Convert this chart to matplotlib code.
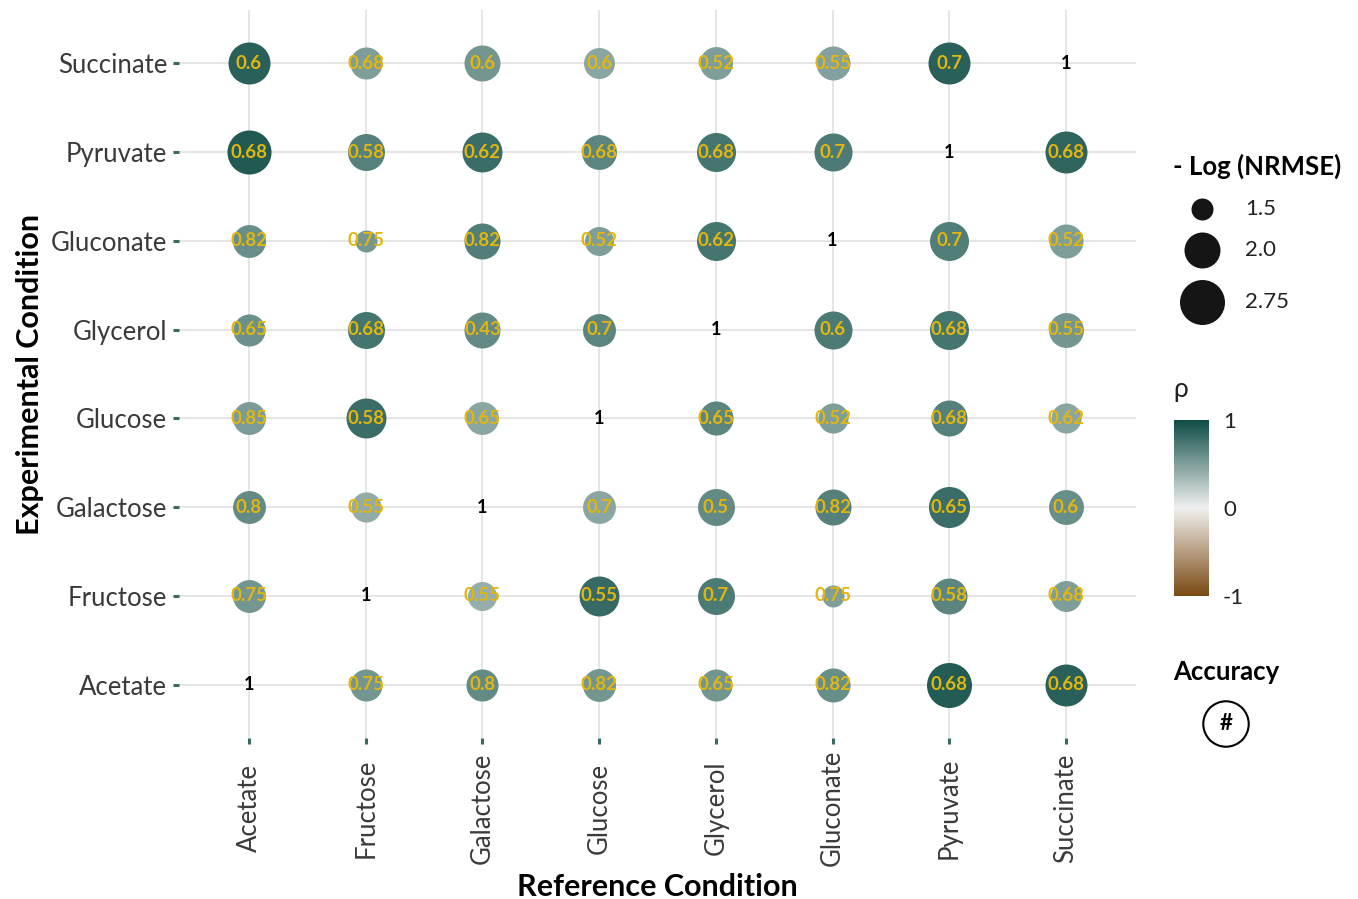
import numpy as np
import matplotlib
matplotlib.use("Agg")
import matplotlib.pyplot as plt
from matplotlib.colors import LinearSegmentedColormap, Normalize
from matplotlib.colorbar import ColorbarBase

plt.rcParams['font.family'] = ['Lato', 'DejaVu Sans']

conditions = ['Acetate', 'Fructose', 'Galactose', 'Glucose',
              'Glycerol', 'Gluconate', 'Pyruvate', 'Succinate']

# rows: experimental condition (bottom -> top follows `conditions`)
# cols: reference condition
neg_log_nrmse = {
    'Succinate': [2.50, 1.86, 2.00, 1.82, 1.89, 1.93, 2.50, np.nan],
    'Pyruvate':  [2.67, 2.08, 2.33, 1.96, 2.25, 2.17, np.nan, 2.50],
    'Gluconate': [1.89, 1.50, 2.00, 1.75, 2.25, np.nan, 2.25, 1.93],
    'Glycerol':  [1.86, 2.08, 2.00, 1.89, np.nan, 2.17, 2.25, 1.96],
    'Glucose':   [1.89, 2.33, 1.89, np.nan, 1.93, 1.79, 2.00, 1.79],
    'Galactose': [1.89, 1.79, np.nan, 1.89, 2.08, 2.00, 2.42, 1.96],
    'Fructose':  [1.89, np.nan, 1.75, 2.33, 2.08, 1.50, 2.00, 1.82],
    'Acetate':   [np.nan, 1.86, 1.86, 1.89, 1.86, 1.93, 2.75, 2.50],
}

rho = {
    'Succinate': [0.88, 0.50, 0.55, 0.45, 0.50, 0.48, 0.88, np.nan],
    'Pyruvate':  [0.92, 0.68, 0.80, 0.65, 0.75, 0.72, np.nan, 0.85],
    'Gluconate': [0.60, 0.55, 0.70, 0.50, 0.75, np.nan, 0.70, 0.50],
    'Glycerol':  [0.58, 0.75, 0.62, 0.65, np.nan, 0.72, 0.75, 0.55],
    'Glucose':   [0.52, 0.80, 0.45, np.nan, 0.65, 0.50, 0.68, 0.45],
    'Galactose': [0.62, 0.42, np.nan, 0.45, 0.62, 0.68, 0.80, 0.60],
    'Fructose':  [0.55, np.nan, 0.40, 0.82, 0.72, 0.50, 0.65, 0.50],
    'Acetate':   [np.nan, 0.55, 0.62, 0.55, 0.55, 0.60, 0.90, 0.88],
}

accuracy = {
    'Succinate': [0.6, 0.68, 0.6, 0.6, 0.52, 0.55, 0.7, 1],
    'Pyruvate':  [0.68, 0.58, 0.62, 0.68, 0.68, 0.7, 1, 0.68],
    'Gluconate': [0.82, 0.75, 0.82, 0.52, 0.62, 1, 0.7, 0.52],
    'Glycerol':  [0.65, 0.68, 0.43, 0.7, 1, 0.6, 0.68, 0.55],
    'Glucose':   [0.85, 0.58, 0.65, 1, 0.65, 0.52, 0.68, 0.62],
    'Galactose': [0.8, 0.55, 1, 0.7, 0.5, 0.82, 0.65, 0.6],
    'Fructose':  [0.75, 1, 0.55, 0.55, 0.7, 0.75, 0.58, 0.68],
    'Acetate':   [1, 0.75, 0.8, 0.82, 0.65, 0.82, 0.68, 0.68],
}

size_breaks = [1.5, 2.0, 2.75]
size_labels = ['1.5', '2.0', '2.75']

DPI = 100
cmap = LinearSegmentedColormap.from_list(
    'brbg', [(0.0, '#7B4A12'), (0.5, '#F0F0F0'), (1.0, '#0E4D45')])
norm = Normalize(-1, 1)
tick_col = '#3A6A63'
label_col = '#E2B60E'


def marker_size(v):
    # diameter in pixels along the legend breaks, converted to points^2
    d = np.interp(v, size_breaks, [22, 36, 45])
    return (d * 72 / DPI) ** 2


fig = plt.figure(figsize=(13.58, 8.99), dpi=DPI)
ax = fig.add_axes([179 / 1358, 1 - 738 / 899, 957 / 1358, 728 / 899])

ax.set_xlim(0.4, 8.6)
ax.set_ylim(0.4, 8.6)
ax.set_axisbelow(True)
ax.grid(True, color='#E5E5E5', linewidth=1.4)
for s in ax.spines.values():
    s.set_visible(False)

for row_i, exp in enumerate(conditions):
    y = row_i + 1
    sizes = neg_log_nrmse[exp]
    cols = rho[exp]
    accs = accuracy[exp]
    for col_i in range(len(conditions)):
        x = col_i + 1
        if np.isnan(sizes[col_i]):
            ax.text(x, y, '1', ha='center', va='center', fontsize=13,
                    fontweight='bold', color='black')
            continue
        ax.scatter(x, y, s=marker_size(sizes[col_i]),
                   color=cmap(norm(cols[col_i])), linewidths=0, zorder=2)
        ax.text(x, y, f'{accs[col_i]:g}', ha='center', va='center',
                fontsize=13.5, fontweight='bold', color=label_col, zorder=3)

ax.set_xticks(range(1, 9))
ax.set_yticks(range(1, 9))
ax.set_xticklabels(conditions, rotation=90, va='center', ha='center')
ax.set_yticklabels(conditions)
ax.tick_params(axis='both', length=4.5, width=2.2, color=tick_col,
               labelsize=18.5, labelcolor='#3A3A3A')
ax.tick_params(axis='x', pad=46)
ax.tick_params(axis='y', pad=4)

fig.text(657 / 1358, 1 - 887 / 899, 'Reference Condition', ha='center',
         va='center', fontsize=22, fontweight='bold')
fig.text(30 / 1358, 1 - 374 / 899, 'Experimental Condition', ha='center',
         va='center', rotation=90, fontsize=22, fontweight='bold')

# size legend
fig.text(1173 / 1358, 1 - 166 / 899, '- Log (NRMSE)', ha='left', va='center',
         fontsize=18.5, fontweight='bold')
leg = fig.add_axes([1170 / 1358, 1 - 330 / 899, 140 / 1358, 140 / 899])
leg.set_xlim(0, 140)
leg.set_ylim(140, 0)
leg.axis('off')
for b, lab, yy in zip(size_breaks, size_labels, [19, 60, 112]):
    leg.scatter(32, yy, s=marker_size(b), color='#151515', linewidths=0)
    leg.text(75, yy, lab, ha='left', va='center', fontsize=16,
             color='#222222')

# colour bar for rho
fig.text(1173 / 1358, 1 - 390 / 899, 'ρ', ha='left', va='center',
         fontsize=19, color='#222222')
cax = fig.add_axes([1174 / 1358, 1 - 596 / 899, 35 / 1358, 176 / 899])
cb = ColorbarBase(cax, cmap=cmap, norm=norm, ticks=[-1, 0, 1])
cb.outline.set_visible(False)
cax.tick_params(length=0, labelsize=16, pad=10, labelcolor='#222222')
cax.set_yticklabels(['-1', '0', '1'])

# accuracy legend
fig.text(1173 / 1358, 1 - 672 / 899, 'Accuracy', ha='left', va='center',
         fontsize=18.5, fontweight='bold')
fig.text(1226 / 1358, 1 - 724 / 899, '#', ha='center', va='center',
         fontsize=16, fontweight='bold',
         bbox=dict(boxstyle='circle,pad=0.55', fc='white', ec='black', lw=1.5))

fig.savefig('out.png', dpi=DPI)
